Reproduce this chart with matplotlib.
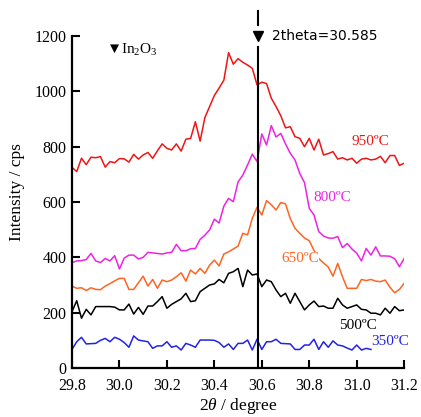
import numpy as np
import matplotlib
matplotlib.use("Agg")
import matplotlib.pyplot as plt

plt.rcParams['font.family'] = ['Liberation Serif', 'DejaVu Sans']
plt.rcParams['mathtext.fontset'] = 'custom'
plt.rcParams['mathtext.rm'] = 'Liberation Serif'
plt.rcParams['mathtext.it'] = 'Liberation Serif:italic'

# 2theta grid, 0.02 deg steps
two_theta = np.round(np.arange(29.80, 31.2001, 0.02), 2)

i_950 = [725, 710, 758, 735, 762, 760, 764, 726, 746, 742, 757, 756, 744, 772, 755,
         770, 779, 758, 785, 810, 794, 788, 810, 784, 827, 830, 890, 820, 905, 945,
         985, 1012, 1040, 1140, 1098, 1118, 1105, 1095, 1083, 1023, 1033, 1028, 975, 945, 912,
         868, 872, 836, 830, 800, 830, 788, 827, 770, 775, 782, 755, 760, 752, 758,
         740, 755, 758, 752, 755, 765, 742, 768, 768, 732, 740]
i_800 = [381, 387, 388, 392, 414, 387, 381, 396, 387, 406, 358, 397, 408, 408, 394,
         400, 418, 416, 414, 412, 416, 418, 447, 424, 424, 431, 432, 465, 480, 499,
         538, 524, 585, 613, 601, 673, 697, 734, 773, 746, 846, 806, 876, 835, 848,
         810, 776, 752, 703, 670, 577, 553, 493, 477, 470, 469, 475, 435, 450, 430,
         415, 387, 432, 408, 438, 405, 405, 404, 395, 366, 396]
i_650 = [296, 288, 290, 280, 290, 284, 283, 296, 305, 315, 324, 324, 284, 284, 308,
         332, 296, 320, 288, 318, 312, 318, 330, 344, 314, 354, 340, 360, 342, 372,
         390, 369, 412, 420, 430, 441, 487, 481, 541, 581, 553, 605, 590, 571, 598,
         593, 540, 505, 487, 470, 460, 425, 396, 380, 365, 332, 378, 330, 288, 288,
         288, 320, 316, 320, 314, 312, 318, 292, 272, 284, 306]
i_500 = [204, 243, 180, 212, 192, 222, 222, 222, 222, 220, 210, 210, 231, 195, 219,
         194, 224, 224, 240, 258, 216, 230, 240, 250, 270, 240, 243, 276, 288, 300,
         304, 320, 308, 342, 348, 360, 294, 354, 336, 340, 294, 318, 312, 282, 258,
         270, 234, 270, 240, 210, 228, 242, 222, 224, 216, 216, 252, 228, 216, 222,
         228, 212, 210, 198, 198, 192, 216, 198, 222, 207, 210]
# 350 C scan stops near 31.06
i_350 = [67, 95, 111, 87, 88, 89, 100, 107, 95, 111, 104, 92, 75, 116, 101,
         98, 95, 71, 80, 80, 95, 75, 80, 65, 89, 83, 75, 101, 101, 101,
         100, 92, 75, 87, 67, 89, 89, 101, 65, 104, 67, 95, 95, 104, 89,
         88, 87, 67, 67, 83, 83, 104, 67, 95, 75, 98, 83, 80, 72, 65,
         83, 65, 71, 67]

peak_pos = 30.585

series = [
    ('950ºC', i_950, '#f01414', 31.057, 817),
    ('800ºC', i_800, '#ee22e6', 30.896, 618),
    ('650ºC', i_650, '#ff6420', 30.761, 397),
    ('500ºC', i_500, 'black', 31.006, 155),
    ('350ºC', i_350, '#2222e8', 31.141, 94),
]

fig = plt.figure(figsize=(4.21, 4.17), dpi=100)
ax = fig.add_axes([0.171, 0.1175, 0.789, 0.7962])

for name, vals, col, lx, ly in series:
    ax.plot(two_theta[:len(vals)], vals, color=col, lw=1.1)
    bb = dict(facecolor='white', edgecolor='none', pad=0) if name == '650ºC' else None
    ax.text(lx, ly, name, color=col, fontsize=11, ha='center', va='center', bbox=bb)

# reference line for In2O3 peak
ax.plot([peak_pos, peak_pos], [0, 1161], color='black', lw=1.5, clip_on=False)
ax.plot([peak_pos, peak_pos], [1240, 1290], color='black', lw=1.5, clip_on=False)
ax.plot([peak_pos], [1200], marker='v', ms=7, color='black', clip_on=False)
ax.text(30.643, 1200, '2theta=30.585', family='DejaVu Sans', fontsize=10,
        ha='left', va='center')
ax.text(29.943, 1149, '▼In$_2$O$_3$', fontsize=11, ha='left', va='center')

ax.set_xlim(29.8, 31.2)
ax.set_ylim(0, 1200)
ax.set_xticks(np.arange(29.8, 31.21, 0.2))
ax.set_xticklabels([f'{v:.1f}' for v in np.arange(29.8, 31.21, 0.2)])
ax.set_yticks(range(0, 1201, 200))
ax.tick_params(direction='in', length=6, width=1.5, labelsize=11.5)
ax.tick_params(axis='y', pad=4)
ax.tick_params(axis='x', pad=7)
for s in ['top', 'right']:
    ax.spines[s].set_visible(False)
for s in ['left', 'bottom']:
    ax.spines[s].set_linewidth(1.6)

ax.set_ylabel('Intensity / cps', fontsize=12.5)
ax.yaxis.set_label_coords(-0.142, 0.53)
ax.set_xlabel('$2\\theta$ / degree', fontsize=12.5)
ax.xaxis.set_label_coords(0.5, -0.085)

fig.savefig('out.png', dpi=100)
